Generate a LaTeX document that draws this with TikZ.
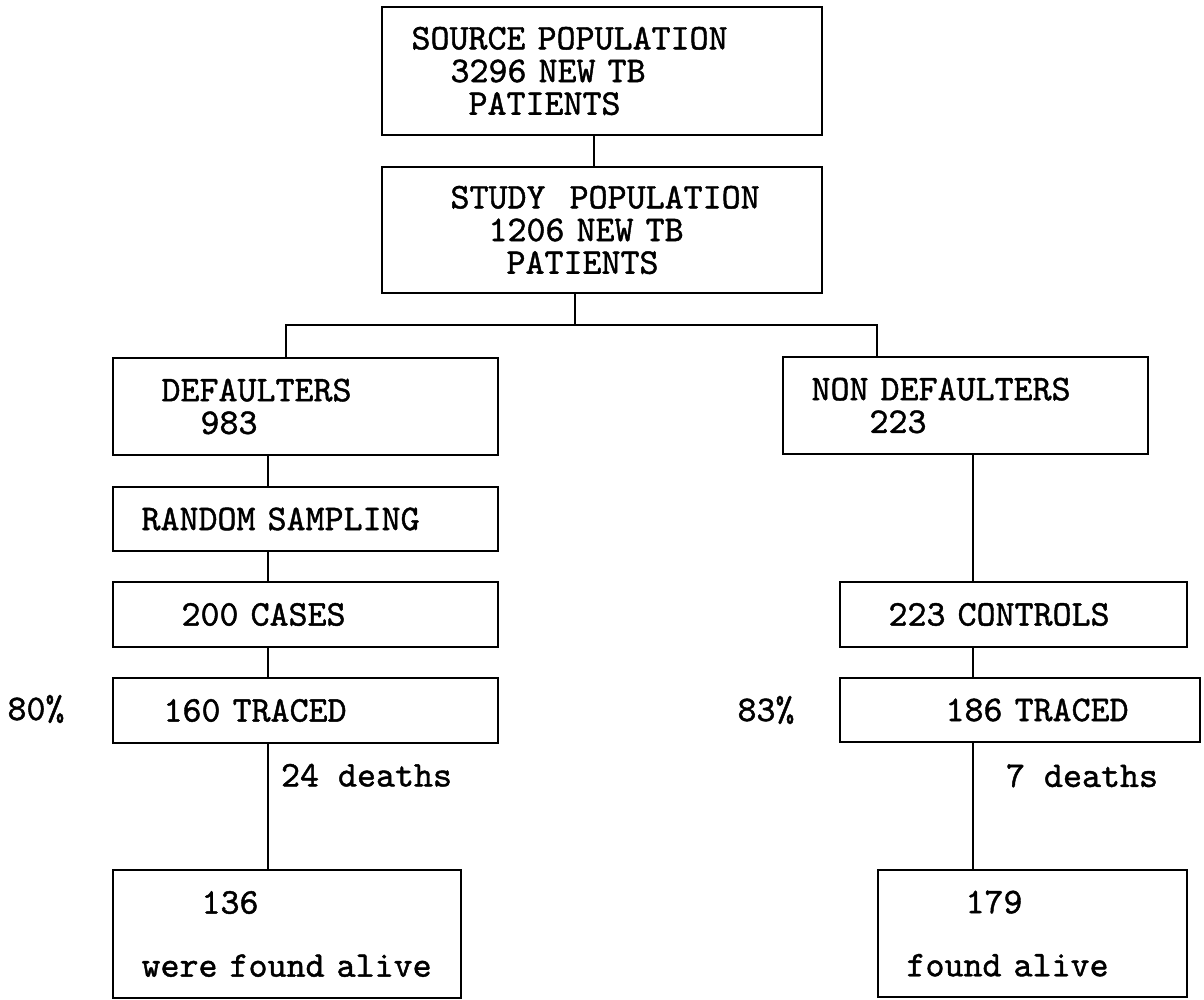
\documentclass[tikz,border=0pt]{standalone}
\usepackage{fontspec}
\setmonofont{lmmono10-regular}[Extension=.otf, BoldFont=lmmono10-regular, BoldFeatures={FakeBold=1.2}]
\usetikzlibrary{positioning}
\tikzset{
        flownode/.style={align=left, inner sep=0pt,
            font={\ttfamily\bfseries\fontsize{20.6}{18.6}\selectfont\spaceskip=0.525em\relax}},
        % Boxes of the chart
        node_box/.style={flownode, rectangle, draw=black, line width=1.2pt, text width=#1},
        % Percentages and deaths
        node_note/.style={flownode}
}
\begin{document}
\begin{tikzpicture}[x=0.02cm, y=-0.02cm, line width=1.2pt]
    \useasboundingbox (0,0) rectangle (1204,1000);
    % Population
    \node[node_box=8.8cm, minimum height=2.56cm] (source) at (602,71)
        {\hspace*{0.59cm}SOURCE POPULATION\\ \hspace*{1.37cm}3296 NEW TB\\ \hspace*{1.73cm}PATIENTS};
    \node[node_box=8.8cm, minimum height=2.52cm] (study) at (602,230)
        {\hspace*{1.37cm}STUDY\ \ POPULATION\\ \hspace*{2.13cm}1206 NEW TB\\ \hspace*{2.49cm}PATIENTS};
    % Defaulters
    \node[node_box=7.7cm, minimum height=1.94cm] (defaulters) at (305.5,406.5)
        {\hspace*{0.97cm}DEFAULTERS\\ \hspace*{1.75cm}983};
    \node[node_box=7.7cm, minimum height=1.28cm] (sampling) at (305.5,519)
        {\hspace*{0.57cm}RANDOM SAMPLING};
    \node[node_box=7.7cm, minimum height=1.3cm] (cases) at (305.5,614.5)
        {\hspace*{1.37cm}200 CASES};
    \node[node_box=7.7cm, minimum height=1.3cm] (traced_l) at (305.5,710.5)
        {\hspace*{1.01cm}160 TRACED};
    \node[node_box=6.96cm, minimum height=2.56cm] (alive_l) at (287,934)
        {\hspace*{1.77cm}136\\[17.3pt] \hspace*{0.57cm}were found alive};
    % Non defaulters
    \node[node_box=7.3cm, minimum height=1.94cm] (nondefaulters) at (965.5,405.5)
        {\hspace*{0.57cm}NON DEFAULTERS\\ \hspace*{1.73cm}223};
    \node[node_box=6.94cm, minimum height=1.3cm] (controls) at (1013.5,614.5)
        {\hspace*{0.97cm}223 CONTROLS};
    \node[node_box=7.2cm, minimum height=1.28cm] (traced_r) at (1020,710)
        {\hspace*{2.11cm}186 TRACED};
    \node[node_box=6.18cm, minimum height=2.54cm] (alive_r) at (1032.5,933.5)
        {\hspace*{1.75cm}179\\[17.3pt] \hspace*{0.57cm}found alive};
    % Percent traced
    \node[node_note] (pct_l) at (36,709) {80\%};
    \node[node_note] (pct_r) at (766,710) {83\%};
    % Where the lines run
    \coordinate (top_x) at (594,0);
    \coordinate (mid_x) at (575,0);
    \coordinate (split) at (0,325);
    \coordinate (left_x) at (286,0);
    \coordinate (right_x) at (877,0);
    \coordinate (lcol) at (268,0);
    \coordinate (rcol) at (973,0);
    \draw (source.south -| top_x) -- (study.north -| top_x);
    \draw (study.south -| mid_x) -- (mid_x |- split);
    \draw (defaulters.north -| left_x) -- (left_x |- split) -- (right_x |- split) -- (nondefaulters.north -| right_x);
    \draw (defaulters.south -| lcol) -- (sampling.north -| lcol);
    \draw (sampling.south -| lcol) -- (cases.north -| lcol);
    \draw (cases.south -| lcol) -- (traced_l.north -| lcol);
    \draw (traced_l.south -| lcol) -- node[node_note, anchor=west, pos=0.25, xshift=0.24cm] (deaths_l) {24 deaths} (alive_l.north -| lcol);
    \draw (nondefaulters.south -| rcol) -- (controls.north -| rcol);
    \draw (controls.south -| rcol) -- (traced_r.north -| rcol);
    \draw (traced_r.south -| rcol) -- node[node_note, anchor=west, pos=0.26, xshift=0.64cm] (deaths_r) {7 deaths} (alive_r.north -| rcol);
\end{tikzpicture}
\end{document}
